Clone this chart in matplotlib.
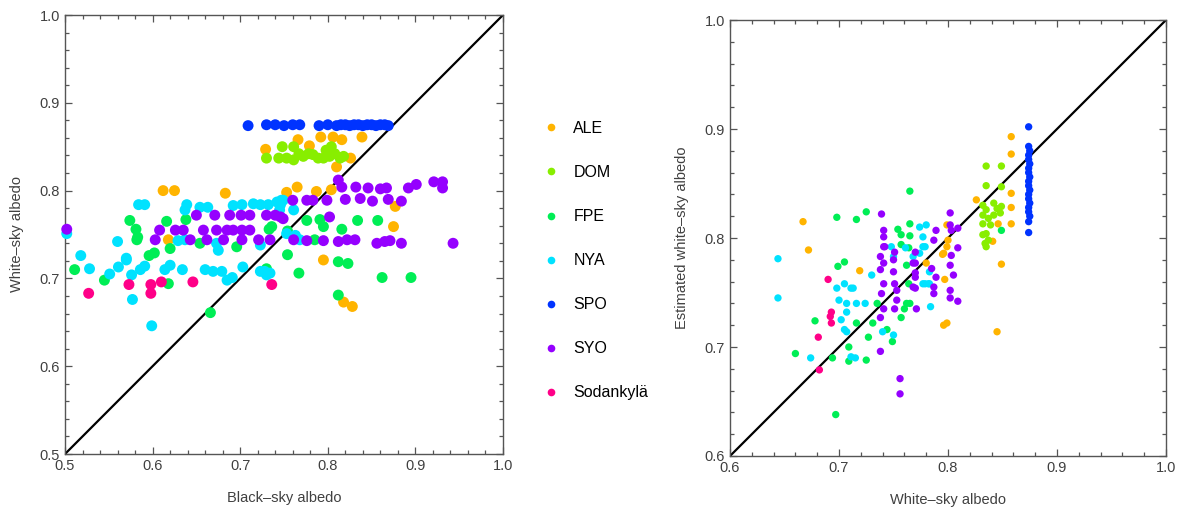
import matplotlib
matplotlib.use("Agg")
import matplotlib.pyplot as plt
from matplotlib.lines import Line2D
import numpy as np

plt.rcParams['font.family'] = ['Liberation Sans', 'DejaVu Sans']

# ------------------------------------------------------------------
# station names and colours
stations = ["ALE", "DOM", "FPE", "NYA", "SPO", "SYO", "Sodankylä"]
colors = ["#FFB400", "#88EE00", "#00EE55", "#00E2FF", "#0033FF", "#9500FF", "#FF0088"]

# ------------------------------------------------------------------
# left panel : black-sky albedo vs white-sky albedo
ale_bsa = [0.766, 0.792, 0.806, 0.816, 0.839, 0.729, 0.779, 0.826, 0.810, 0.612, 0.625, 0.683,
           0.765, 0.753, 0.787, 0.804, 0.877, 0.875, 0.795, 0.818, 0.828, 0.618]
ale_wsa = [0.858, 0.861, 0.861, 0.858, 0.861, 0.847, 0.851, 0.837, 0.827, 0.800, 0.800, 0.797,
           0.804, 0.798, 0.799, 0.801, 0.782, 0.759, 0.721, 0.673, 0.668, 0.744]

dom_bsa = [0.748, 0.761, 0.804, 0.730, 0.744, 0.753, 0.761, 0.772, 0.778, 0.783, 0.789, 0.795,
           0.802, 0.808, 0.814, 0.818, 0.767, 0.798]
dom_wsa = [0.850, 0.850, 0.850, 0.837, 0.837, 0.837, 0.835, 0.839, 0.842, 0.841, 0.837, 0.837,
           0.839, 0.842, 0.837, 0.839, 0.842, 0.846]

fpe_bsa = [0.574, 0.581, 0.583, 0.616, 0.638, 0.733, 0.754, 0.776, 0.791, 0.795, 0.816, 0.834,
           0.857, 0.620, 0.654, 0.696, 0.785, 0.754, 0.767, 0.812, 0.823, 0.862, 0.895, 0.812,
           0.736, 0.511, 0.545, 0.596, 0.602, 0.618, 0.666, 0.730, 0.582]
fpe_wsa = [0.766, 0.756, 0.747, 0.765, 0.767, 0.756, 0.754, 0.766, 0.767, 0.759, 0.756, 0.766,
           0.766, 0.734, 0.740, 0.736, 0.744, 0.727, 0.706, 0.719, 0.717, 0.701, 0.701, 0.681,
           0.759, 0.710, 0.698, 0.726, 0.729, 0.694, 0.661, 0.711, 0.744]

nya_bsa = [0.584, 0.591, 0.639, 0.654, 0.663, 0.692, 0.702, 0.715, 0.723, 0.732, 0.746, 0.747,
           0.637, 0.761, 0.742, 0.749, 0.745, 0.753, 0.763, 0.560, 0.518, 0.528, 0.551, 0.561,
           0.570, 0.576, 0.586, 0.591, 0.614, 0.620, 0.634, 0.660, 0.669, 0.679, 0.685, 0.691,
           0.703, 0.728, 0.730, 0.577, 0.599, 0.629, 0.675, 0.637, 0.673, 0.723, 0.768, 0.502,
           0.570, 0.734, 0.723]
nya_wsa = [0.784, 0.784, 0.784, 0.781, 0.781, 0.783, 0.784, 0.785, 0.784, 0.784, 0.784, 0.789,
           0.778, 0.778, 0.787, 0.789, 0.778, 0.751, 0.749, 0.742, 0.726, 0.711, 0.705, 0.713,
           0.721, 0.704, 0.710, 0.714, 0.710, 0.715, 0.710, 0.710, 0.708, 0.708, 0.698, 0.701,
           0.713, 0.708, 0.704, 0.676, 0.646, 0.743, 0.732, 0.744, 0.740, 0.738, 0.744, 0.751,
           0.723, 0.706, 0.708]

spo_bsa = [0.709, 0.730, 0.740, 0.750, 0.760, 0.768, 0.790, 0.800, 0.810, 0.815, 0.820, 0.825,
           0.830, 0.835, 0.840, 0.845, 0.850, 0.855, 0.860, 0.865, 0.869]
spo_wsa = [0.874, 0.875, 0.875, 0.874, 0.875, 0.875, 0.874, 0.875, 0.874, 0.875, 0.875, 0.874,
           0.875, 0.875, 0.874, 0.875, 0.875, 0.874, 0.875, 0.875, 0.874]

syo_bsa = [0.812, 0.816, 0.832, 0.846, 0.860, 0.867, 0.892, 0.901, 0.921, 0.931, 0.931,
           0.760, 0.776, 0.783, 0.799, 0.820, 0.837, 0.851, 0.869, 0.884,
           0.650, 0.671, 0.688, 0.701, 0.711, 0.730, 0.740, 0.746, 0.802, 0.749,
           0.608, 0.626, 0.635, 0.658, 0.673, 0.685, 0.692, 0.702, 0.711,
           0.603, 0.643, 0.662, 0.681, 0.702, 0.734, 0.761, 0.776, 0.795, 0.812, 0.822,
           0.831, 0.856, 0.865, 0.871, 0.884, 0.943, 0.502, 0.721]
syo_wsa = [0.812, 0.804, 0.804, 0.803, 0.802, 0.803, 0.803, 0.807, 0.810, 0.810, 0.803,
           0.789, 0.789, 0.789, 0.789, 0.790, 0.791, 0.788, 0.790, 0.788,
           0.772, 0.772, 0.772, 0.772, 0.772, 0.772, 0.772, 0.770, 0.770, 0.768,
           0.755, 0.755, 0.755, 0.755, 0.755, 0.755, 0.755, 0.755, 0.755,
           0.744, 0.744, 0.744, 0.744, 0.744, 0.744, 0.744, 0.743, 0.743, 0.742, 0.744,
           0.744, 0.740, 0.742, 0.743, 0.740, 0.740, 0.756, 0.744]

sod_bsa = [0.527, 0.573, 0.598, 0.598, 0.610, 0.646, 0.736]
sod_wsa = [0.683, 0.693, 0.693, 0.683, 0.696, 0.696, 0.693]

# ------------------------------------------------------------------
# right panel : white-sky albedo vs estimated white-sky albedo
ale_ws = [0.858, 0.858, 0.858, 0.858, 0.858, 0.826, 0.846, 0.841, 0.667, 0.672, 0.849, 0.799,
          0.800, 0.796, 0.797, 0.780, 0.719, 0.796, 0.799, 0.845, 0.795, 0.799]
ale_est = [0.893, 0.877, 0.841, 0.828, 0.813, 0.835, 0.813, 0.797, 0.815, 0.789, 0.776, 0.812,
           0.798, 0.786, 0.762, 0.777, 0.770, 0.720, 0.722, 0.714, 0.785, 0.792]

dom_ws = [0.835, 0.849, 0.835, 0.849, 0.832, 0.835, 0.832, 0.837, 0.842, 0.845, 0.849, 0.848,
          0.842, 0.832, 0.839, 0.835, 0.832, 0.837, 0.835, 0.834]
dom_est = [0.866, 0.866, 0.848, 0.847, 0.830, 0.826, 0.821, 0.818, 0.832, 0.827, 0.829, 0.823,
           0.821, 0.813, 0.812, 0.804, 0.803, 0.798, 0.792, 0.795]

fpe_ws = [0.765, 0.698, 0.716, 0.725, 0.754, 0.765, 0.757, 0.765, 0.764, 0.849, 0.762, 0.764,
          0.762, 0.705, 0.699, 0.678, 0.716, 0.731, 0.727, 0.709, 0.694, 0.709, 0.725, 0.660,
          0.697, 0.744, 0.749, 0.757, 0.760, 0.765, 0.757, 0.735]
fpe_est = [0.843, 0.819, 0.817, 0.824, 0.808, 0.813, 0.803, 0.802, 0.791, 0.807, 0.775, 0.758,
           0.740, 0.778, 0.774, 0.724, 0.722, 0.722, 0.709, 0.700, 0.690, 0.687, 0.688, 0.694,
           0.638, 0.716, 0.705, 0.727, 0.735, 0.740, 0.794, 0.740]

nya_ws = [0.644, 0.644, 0.674, 0.698, 0.705, 0.711, 0.700, 0.707, 0.716, 0.724, 0.707, 0.702,
          0.705, 0.707, 0.711, 0.715, 0.730, 0.740, 0.750, 0.784, 0.779, 0.782, 0.783, 0.750,
          0.774, 0.777, 0.774, 0.780, 0.777, 0.779, 0.768, 0.761, 0.777, 0.783, 0.748, 0.713]
nya_est = [0.781, 0.745, 0.690, 0.754, 0.758, 0.754, 0.743, 0.740, 0.740, 0.740, 0.732, 0.725,
           0.716, 0.714, 0.691, 0.690, 0.766, 0.714, 0.711, 0.737, 0.758, 0.758, 0.769, 0.783,
           0.786, 0.792, 0.810, 0.812, 0.801, 0.792, 0.783, 0.791, 0.758, 0.758, 0.792, 0.754]

spo_ws = [0.874, 0.874, 0.875, 0.874, 0.874, 0.875, 0.874, 0.874, 0.875, 0.874, 0.874, 0.875,
          0.874, 0.874, 0.875, 0.874, 0.874, 0.875, 0.874, 0.874]
spo_est = [0.902, 0.884, 0.880, 0.876, 0.872, 0.868, 0.864, 0.860, 0.856, 0.852, 0.848, 0.844,
           0.840, 0.836, 0.832, 0.828, 0.824, 0.820, 0.815, 0.805]

syo_ws = [0.739, 0.741, 0.741, 0.741, 0.789, 0.787, 0.802, 0.803, 0.809, 0.751, 0.770,
          0.802, 0.809, 0.770, 0.770, 0.770, 0.785, 0.789, 0.803, 0.802, 0.805, 0.787,
          0.802, 0.809, 0.738, 0.741, 0.738, 0.750, 0.750, 0.751, 0.741, 0.739, 0.741,
          0.738, 0.738, 0.753, 0.753, 0.751, 0.756, 0.756, 0.768, 0.770, 0.768, 0.771,
          0.787, 0.802, 0.742]
syo_est = [0.822, 0.807, 0.801, 0.792, 0.807, 0.798, 0.823, 0.807, 0.791, 0.787, 0.787,
           0.812, 0.809, 0.777, 0.764, 0.754, 0.772, 0.764, 0.784, 0.775, 0.766, 0.749,
           0.752, 0.742, 0.783, 0.777, 0.771, 0.780, 0.769, 0.758, 0.758, 0.749, 0.735,
           0.727, 0.696, 0.752, 0.743, 0.735, 0.671, 0.657, 0.777, 0.768, 0.755, 0.735,
           0.755, 0.745, 0.792]

sod_ws = [0.690, 0.693, 0.692, 0.693, 0.681, 0.682]
sod_est = [0.762, 0.732, 0.728, 0.722, 0.709, 0.679]

left_data = [(ale_bsa, ale_wsa), (dom_bsa, dom_wsa), (fpe_bsa, fpe_wsa), (nya_bsa, nya_wsa),
             (spo_bsa, spo_wsa), (syo_bsa, syo_wsa), (sod_bsa, sod_wsa)]
right_data = [(ale_ws, ale_est), (dom_ws, dom_est), (fpe_ws, fpe_est), (nya_ws, nya_est),
              (spo_ws, spo_est), (syo_ws, syo_est), (sod_ws, sod_est)]

# ------------------------------------------------------------------
fig = plt.figure(figsize=(11.83, 5.12), dpi=100)
ax1 = fig.add_axes([65 / 1183, 1 - 454 / 512, 438 / 1183, 439 / 512])
ax2 = fig.add_axes([730 / 1183, 1 - 456 / 512, 436 / 1183, 436 / 512])

label_col = "#404040"


def style_axis(ax, lo, hi):
    ax.set_xlim(lo, hi)
    ax.set_ylim(lo, hi)
    ticks = np.round(np.arange(lo, hi + 0.001, 0.1), 1)
    ax.set_xticks(ticks)
    ax.set_yticks(ticks)
    ax.set_xticklabels(["%.1f" % t for t in ticks])
    ax.set_yticklabels(["%.1f" % t for t in ticks])
    ax.set_xticks(np.arange(lo, hi + 0.001, 0.02), minor=True)
    ax.set_yticks(np.arange(lo, hi + 0.001, 0.02), minor=True)
    ax.tick_params(which="both", direction="in", top=True, right=True,
                   colors="#555555", labelcolor=label_col, labelsize=10.5, width=0.9)
    ax.tick_params(which="major", length=5)
    ax.tick_params(which="minor", length=3)
    for s in ax.spines.values():
        s.set_color("#555555")
        s.set_linewidth(1.0)


for (x, y), c in zip(left_data, colors):
    ax1.scatter(x, y, s=62, color=c, edgecolors="none", zorder=3, clip_on=False)
ax1.plot([0.5, 1.0], [0.5, 1.0], color="black", lw=1.6, zorder=2)
style_axis(ax1, 0.5, 1.0)
ax1.set_xlabel("Black\u2013sky albedo", fontsize=10.5, color=label_col, labelpad=13)
ax1.set_ylabel("White\u2013sky albedo", fontsize=10.5, color=label_col, labelpad=11)

for (x, y), c in zip(right_data, colors):
    ax2.scatter(x, y, s=28, color=c, edgecolors="none", zorder=3)
ax2.plot([0.6, 1.0], [0.6, 1.0], color="black", lw=1.6, zorder=2)
style_axis(ax2, 0.6, 1.0)
ax2.set_xlabel("White\u2013sky albedo", fontsize=10.5, color=label_col, labelpad=13)
ax2.set_ylabel("Estimated white\u2013sky albedo", fontsize=10.5, color=label_col, labelpad=11)

# legend between the panels
handles = [Line2D([], [], marker="o", ls="none", markersize=5.5, color=c, markeredgewidth=0)
           for c in colors]
fig.legend(handles, stations, loc="upper left", bbox_to_anchor=(535 / 1183, 1 - 113 / 512),
           frameon=False, fontsize=11.5, labelspacing=1.82, handletextpad=0.9,
           handlelength=1.0, borderpad=0)

fig.savefig("out.png", dpi=100)
